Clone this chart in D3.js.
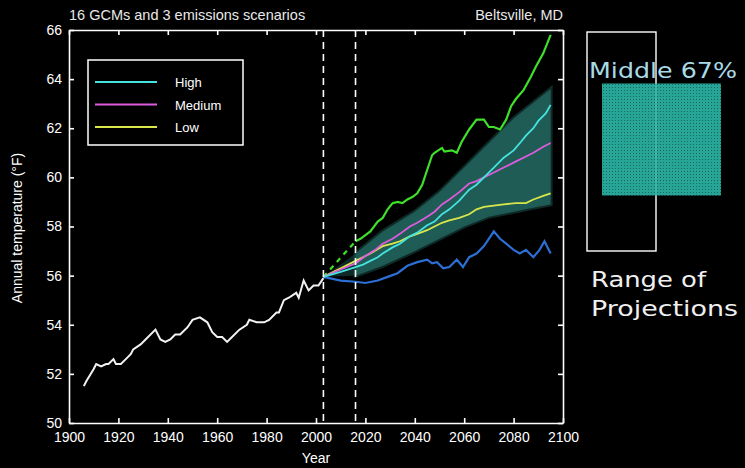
<!DOCTYPE html>
<html>
<head>
<meta charset="utf-8">
<script src="https://cdn.jsdelivr.net/npm/d3@7"></script>
<style>
body{margin:0;background:#000;}
svg{display:block;}
</style>
</head>
<body>
<div></div>
<script>
// observed record
var obsYears = [1906,1907,1910,1911,1913,1915,1916,1918,1919,1921,1923,1925,1926,1929,1931,1935,1937,1939,1941,1943,1945,1948,1950,1953,1956,1958,1960,1962,1964,1966,1969,1972,1973,1976,1979,1981,1984,1985,1987,1989,1992,1993,1995,1997,1999,2001,2003];
var obsTemps = [51.5,51.7,52.2,52.4,52.3,52.4,52.4,52.6,52.4,52.4,52.6,52.8,53.0,53.2,53.4,53.8,53.4,53.3,53.4,53.6,53.6,53.9,54.2,54.3,54.1,53.7,53.5,53.5,53.3,53.5,53.8,54.0,54.2,54.1,54.1,54.2,54.5,54.5,55.0,55.1,55.3,55.1,55.8,55.4,55.6,55.6,55.9];

// middle 67% band
var bandYears = [2003,2016,2027,2040,2050,2060,2070,2080,2090,2095];
var bandHigh  = [55.95,56.9,57.8,58.6,59.4,60.4,61.4,62.4,63.2,63.6];
var bandLow   = [55.95,56.0,56.4,57.0,57.5,58.0,58.4,58.6,58.8,58.9];

// range of projections
var maxYears = [2003,2016,2018,2020,2022,2025,2027,2029,2031,2033,2035,2037,2039,2041,2043,2045,2047,2048,2051,2052,2055,2057,2059,2062,2065,2068,2070,2072,2074.5,2077,2079,2081,2084,2087,2089,2092,2095];
var maxTemps = [55.95,57.4,57.5,57.65,57.8,58.2,58.35,58.7,58.95,59.0,58.95,59.1,59.2,59.35,59.7,60.3,60.9,61.0,61.2,61.05,61.1,61.0,61.45,61.95,62.35,62.35,62.05,62.05,61.95,62.35,62.9,63.2,63.55,64.1,64.5,65.05,65.8];
var minYears = [2003,2010,2016,2020,2025,2029,2033,2037,2041,2045,2047,2049,2051.5,2054,2057,2059.5,2062,2065,2068,2072,2074.5,2077,2080,2082.5,2085,2088,2090.5,2092.5,2095];
var minTemps = [55.95,55.8,55.75,55.7,55.8,55.95,56.1,56.4,56.55,56.65,56.5,56.55,56.3,56.35,56.65,56.35,56.75,56.9,57.2,57.8,57.5,57.3,57.05,56.9,57.05,56.75,57.05,57.4,56.9];

// scenario means
var highYears = [2003,2010,2016,2019,2022,2025,2027,2031,2034,2038,2041,2045,2048,2051,2054,2058,2062,2065,2068,2072,2076,2080,2083,2085,2088,2090,2093,2095];
var highTemps = [55.95,56.15,56.35,56.45,56.6,56.75,56.9,57.15,57.3,57.6,57.75,58.05,58.2,58.5,58.7,59.05,59.5,59.7,60.0,60.4,60.8,61.1,61.45,61.7,62.0,62.3,62.6,62.95];
var medYears  = [2003,2010,2016,2020,2024,2027,2031,2034,2038,2041,2045,2048,2051,2054,2058,2062,2065,2068,2072,2076,2081,2085,2088,2092,2095];
var medTemps  = [55.95,56.25,56.5,56.8,57.05,57.3,57.5,57.7,58.0,58.15,58.4,58.6,58.9,59.1,59.4,59.75,59.85,60.0,60.2,60.4,60.65,60.85,61.0,61.25,61.4];
var lowYears  = [2003,2010,2016,2019,2022,2027,2031,2034,2038,2041,2045,2048,2051,2054,2058,2062,2065,2068,2072,2076,2081,2085,2088,2092,2095];
var lowTemps  = [55.95,56.3,56.6,56.75,56.9,57.2,57.3,57.4,57.6,57.7,57.85,58.0,58.15,58.25,58.35,58.5,58.7,58.8,58.85,58.9,58.95,58.95,59.1,59.25,59.35];

var xTicks = [1900,1920,1940,1960,1980,2000,2020,2040,2060,2080,2100];
var yTicks = [50,52,54,56,58,60,62,64,66];
var markYears = [2003,2016];

var scenarioNames = ["High","Medium","Low"];
var scenarioColors = ["#45e2e0","#dd5cdd","#d9e64a"];

var font = "'Liberation Sans', Arial, sans-serif";

var svg = d3.select("div")
.append("svg")
.attr("width",745)
.attr("height",468)

svg.append("rect").attr("width",745).attr("height",468).attr("fill","#000");

var x = d3.scaleLinear().domain([1900,2100]).range([69,563]);
var y = d3.scaleLinear().domain([50,66]).range([423,30]);

function zip(a,b){ return a.map(function(d,i){ return [d,b[i]]; }); }

var line = d3.line().x(function(d){ return x(d[0]); }).y(function(d){ return y(d[1]); });

// band: faint before the second marker year, solid after
var bandData = bandYears.map(function(d,i){ return [d,bandLow[i],bandHigh[i]]; });
var area = d3.area()
.x(function(d){ return x(d[0]); })
.y0(function(d){ return y(d[1]); })
.y1(function(d){ return y(d[2]); });

svg.append("path").datum(bandData.filter(function(d){ return d[0]<=2016; })).attr("d",area)
.attr("fill","#1f5c55").attr("fill-opacity",0.45);
svg.append("path").datum(bandData.filter(function(d){ return d[0]>=2016; })).attr("d",area)
.attr("fill","#1f5c55").attr("stroke","#1f5c55").attr("stroke-width",4).attr("stroke-opacity",0.45);

// range lines
var maxData = zip(maxYears,maxTemps);
var minData = zip(minYears,minTemps);
svg.append("path").datum(maxData.filter(function(d){ return d[0]<=2016; })).attr("d",line)
.attr("fill","none").attr("stroke","#3fe02a").attr("stroke-width",2.2).style("stroke-dasharray","5,5");
svg.append("path").datum(maxData.filter(function(d){ return d[0]>=2016; })).attr("d",line)
.attr("fill","none").attr("stroke","#3fe02a").attr("stroke-width",2.2);
svg.append("path").datum(minData).attr("d",line)
.attr("fill","none").attr("stroke","#2b6fd4").attr("stroke-width",2.2);

// scenario lines
var scen = [zip(highYears,highTemps),zip(medYears,medTemps),zip(lowYears,lowTemps)];
[2,1,0].forEach(function(i){
  svg.append("path").datum(scen[i]).attr("d",line)
  .attr("fill","none").attr("stroke",scenarioColors[i]).attr("stroke-width",1.8);
});

// observed
svg.append("path").datum(zip(obsYears,obsTemps)).attr("d",line)
.attr("fill","none").attr("stroke","#f2f2f2").attr("stroke-width",2);

// dashed markers
svg.selectAll(".mark").data(markYears).enter().append("line")
.attr("x1",function(d){ return x(d); }).attr("x2",function(d){ return x(d); })
.attr("y1",y(66)).attr("y2",y(50))
.attr("stroke","#fff").attr("stroke-width",1.6).style("stroke-dasharray","7,5");

// axes
function styleAxis(g){
  g.selectAll("path,line").attr("stroke","#fff").attr("stroke-width",1.6);
  g.selectAll("text").attr("fill","#fff").style("font-family",font).style("font-size","14px");
}
svg.append("g").attr("transform","translate(0,423)")
.call(d3.axisBottom(x).tickValues(xTicks).tickFormat(d3.format("d")).tickSize(-5).tickSizeOuter(0).tickPadding(9))
.call(styleAxis);
svg.append("g").attr("transform","translate(0,30)")
.call(d3.axisTop(x).tickValues(xTicks).tickFormat("").tickSize(-5).tickSizeOuter(0))
.call(styleAxis);
svg.append("g").attr("transform","translate(69,0)")
.call(d3.axisLeft(y).tickValues(yTicks).tickSize(-5).tickSizeOuter(0).tickPadding(7))
.call(styleAxis);
svg.append("g").attr("transform","translate(563,0)")
.call(d3.axisRight(y).tickValues(yTicks).tickFormat("").tickSize(-5).tickSizeOuter(0))
.call(styleAxis);

// titles
svg.append("text").attr("x",69).attr("y",20).text("16 GCMs and 3 emissions scenarios")
.attr("fill","#e8e8e8").style("font-family",font).style("font-size","14.5px");
svg.append("text").attr("x",563).attr("y",20).attr("text-anchor","end").text("Beltsville, MD")
.attr("fill","#e8e8e8").style("font-family",font).style("font-size","14.5px");
svg.append("text").attr("x",316).attr("y",463).attr("text-anchor","middle").text("Year")
.attr("fill","#fff").style("font-family",font).style("font-size","14px");
svg.append("text").attr("transform","translate(22,228) rotate(-90)").attr("text-anchor","middle")
.text("Annual temperature (\u00B0F)")
.attr("fill","#fff").style("font-family",font).style("font-size","14px");

// legend
var lg = svg.append("g").attr("transform","translate(88,60)");
lg.append("rect").attr("width",155).attr("height",85).attr("fill","#000")
.attr("stroke","#fff").attr("stroke-width",1.5);
scenarioNames.forEach(function(n,i){
  lg.append("line").attr("x1",7).attr("x2",69).attr("y1",22+i*22.5).attr("y2",22+i*22.5)
  .attr("stroke",scenarioColors[i]).attr("stroke-width",2.2);
  lg.append("text").attr("x",87).attr("y",27+i*22.5).text(n)
  .attr("fill","#fff").style("font-family",font).style("font-size","13px");
});

// side annotation
var defs = svg.append("defs");
var pat = defs.append("pattern").attr("id","stip").attr("patternUnits","userSpaceOnUse")
.attr("width",3).attr("height",3);
pat.append("rect").attr("width",3).attr("height",3).attr("fill","#27a596");
pat.append("rect").attr("width",1).attr("height",1).attr("fill","#17685e");

var an = svg.append("g");
an.append("rect").attr("x",587).attr("y",32).attr("width",69).attr("height",219)
.attr("fill","none").attr("stroke","#fff").attr("stroke-width",1.4);
an.append("rect").attr("x",602).attr("y",83.5).attr("width",119).attr("height",112)
.attr("fill","url(#stip)");
an.append("line").attr("x1",656).attr("x2",656).attr("y1",83.5).attr("y2",195.5)
.attr("stroke","#8fd6cc").attr("stroke-opacity",0.45).attr("stroke-width",1.2);
var sideFont = "'DejaVu Sans', Verdana, sans-serif";
an.append("text").attr("x",589).attr("y",78).text("Middle 67%")
.attr("textLength",148).attr("lengthAdjust","spacingAndGlyphs")
.attr("fill","#a9dbe6").style("font-family",sideFont).style("font-size","21px");
an.append("text").attr("x",591).attr("y",287).text("Range of")
.attr("textLength",115).attr("lengthAdjust","spacingAndGlyphs")
.attr("fill","#f0f0f0").style("font-family",sideFont).style("font-size","21px");
an.append("text").attr("x",591).attr("y",316).text("Projections")
.attr("textLength",147).attr("lengthAdjust","spacingAndGlyphs")
.attr("fill","#f0f0f0").style("font-family",sideFont).style("font-size","21px");
</script>
</body>
</html>
